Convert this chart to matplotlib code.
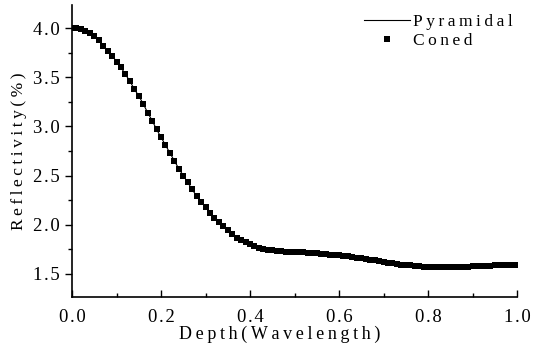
import numpy as np
import matplotlib.pyplot as plt
from matplotlib.ticker import MultipleLocator

plt.rcParams['font.family'] = ['Liberation Serif', 'DejaVu Serif']

depth = np.round(np.arange(0, 101) * 0.01, 2)
reflectivity = [
    4.00, 4.00, 3.99, 3.97, 3.95, 3.92, 3.88, 3.82, 3.77, 3.72,
    3.66, 3.60, 3.53, 3.46, 3.38, 3.31, 3.23, 3.14, 3.06, 2.97,
    2.89, 2.81, 2.73, 2.65, 2.57, 2.50, 2.43, 2.36, 2.29, 2.23,
    2.18, 2.12, 2.07, 2.03, 1.99, 1.95, 1.91, 1.87, 1.84, 1.82,
    1.80, 1.78, 1.765, 1.755, 1.745, 1.74, 1.735, 1.73, 1.727, 1.725,
    1.722, 1.72, 1.718, 1.715, 1.712, 1.708, 1.705, 1.70, 1.696, 1.692,
    1.688, 1.683, 1.678, 1.672, 1.666, 1.66, 1.652, 1.645, 1.637, 1.63,
    1.622, 1.615, 1.608, 1.601, 1.595, 1.59, 1.586, 1.582, 1.578, 1.575,
    1.573, 1.571, 1.57, 1.569, 1.568, 1.568, 1.569, 1.57, 1.572, 1.574,
    1.576, 1.578, 1.58, 1.582, 1.584, 1.586, 1.588, 1.59, 1.591, 1.592,
    1.593,
]


def spaced(s, sep='\u2009'):
    return sep.join(s)


fig = plt.figure(figsize=(5.39, 3.48), dpi=100)
ax = fig.add_axes([0.1336, 0.1466, 0.8257, 0.839])

ax.plot(depth, reflectivity, color='k', lw=0.8, label=spaced('Pyramidal'))
ax.plot(depth, reflectivity, 's', color='k', ms=4.2, mew=0, label=spaced('Coned'))

ax.set_xlim(0, 1.0)
ax.set_ylim(1.265, 4.235)
ax.xaxis.set_major_locator(MultipleLocator(0.2))
ax.xaxis.set_minor_locator(MultipleLocator(0.1))
ax.yaxis.set_major_locator(MultipleLocator(0.5))
ax.yaxis.set_minor_locator(MultipleLocator(0.25))
tick_fmt = plt.FuncFormatter(lambda v, p: spaced('%.1f' % v, '\u200a'))
ax.xaxis.set_major_formatter(tick_fmt)
ax.yaxis.set_major_formatter(tick_fmt)

for s in ['top', 'right']:
    ax.spines[s].set_visible(False)
ax.spines['left'].set_linewidth(1.2)
ax.spines['bottom'].set_linewidth(1.2)

ax.tick_params(axis='y', which='major', direction='out', length=5, width=1, labelsize=13.5)
ax.tick_params(axis='y', which='minor', direction='out', length=3, width=1)
ax.tick_params(axis='x', which='major', direction='in', length=5, width=1, labelsize=13.5, pad=9)
ax.tick_params(axis='x', which='minor', direction='in', length=3, width=1)

ax.set_xlabel(spaced('Depth(Wavelength)'), fontsize=13)
ax.xaxis.set_label_coords(0.467, -0.1)
ax.set_ylabel(spaced('Reflectivity(%)'), fontsize=12.5, labelpad=5)

ax.legend(loc='upper right', frameon=False, fontsize=12.5, handlelength=2.6,
          handletextpad=0.2, borderaxespad=0.1, labelspacing=0.15,
          bbox_to_anchor=(1.01, 1.0))

fig.savefig('out.png', dpi=100)
